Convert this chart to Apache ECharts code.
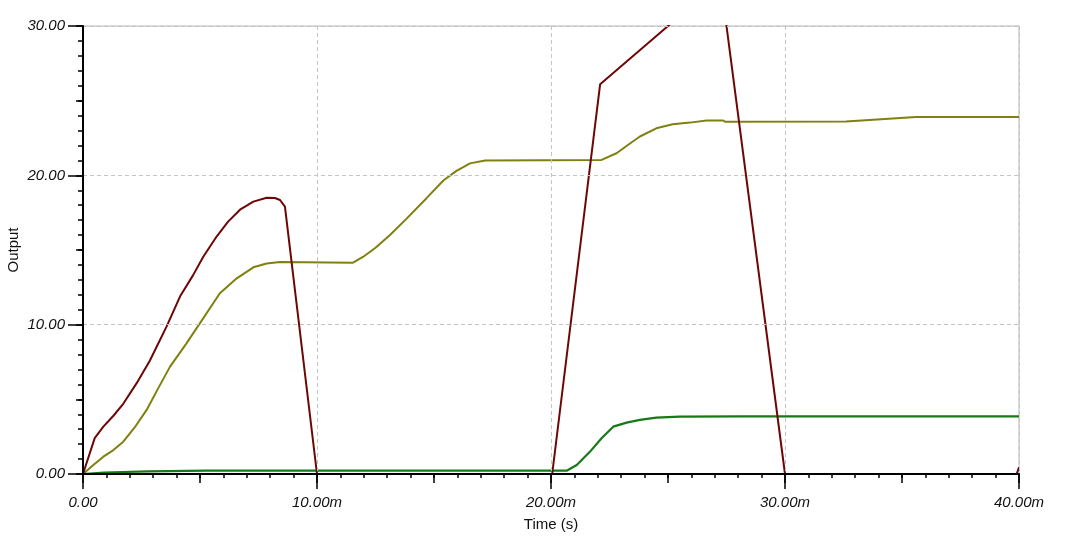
<!DOCTYPE html>
<html>
<head>
<meta charset="utf-8">
<script src="https://cdn.jsdelivr.net/npm/echarts@6/dist/echarts.min.js"></script>
<style>
html,body{margin:0;padding:0;background:#fff;}
#chart{width:1065px;height:545px;}
</style>
</head>
<body>
<div id="chart"></div>
<script>
// Time in ms
const redT = [0, 0.5, 0.87, 1.3, 1.72, 2.3, 2.86, 3.57, 4.15, 4.7, 5.14, 5.71, 6.2, 6.71, 7.28, 7.85, 8.2, 8.42, 8.63, 10.0, 20.05, 22.1, 25.0, 27.25, 30.0, 39.9, 40];
const redV = [0, 2.4, 3.17, 3.9, 4.7, 6.1, 7.6, 9.87, 11.9, 13.3, 14.55, 15.9, 16.9, 17.7, 18.24, 18.5, 18.48, 18.35, 17.9, 0, 0, 26.1, 30, 33, 0, 0, 0.45];

const oliveT = [0, 0.44, 0.87, 1.3, 1.72, 2.2, 2.72, 3.2, 3.72, 4.4, 5.0, 5.85, 6.57, 7.28, 7.85, 8.42, 11.54, 11.98, 12.5, 13.12, 13.83, 14.68, 15.4, 15.96, 16.54, 17.18, 22.16, 22.8, 23.3, 23.8, 24.5, 25.2, 25.94, 26.65, 27.36, 27.45, 32.6, 35.6, 40];
const oliveV = [0, 0.6, 1.16, 1.6, 2.16, 3.1, 4.29, 5.7, 7.19, 8.7, 10.1, 12.1, 13.1, 13.84, 14.1, 14.2, 14.15, 14.55, 15.15, 16.0, 17.1, 18.47, 19.65, 20.3, 20.8, 21.0, 21.03, 21.48, 22.05, 22.6, 23.15, 23.42, 23.53, 23.67, 23.67, 23.58, 23.6, 23.9, 23.9];

const greenT = [0, 0.9, 2.8, 5.3, 20.67, 21.1, 21.67, 22.16, 22.66, 23.23, 23.8, 24.5, 25.5, 28.1, 40];
const greenV = [0, 0.1, 0.17, 0.22, 0.22, 0.6, 1.5, 2.39, 3.17, 3.44, 3.62, 3.77, 3.84, 3.86, 3.86];

const xTicks = [0, 10, 20, 30, 40];
const yTicks = [0, 10, 20, 30];

function pairs(t, v) { return t.map((x, i) => [x, v[i]]); }

const labelFont = { fontFamily: 'Liberation Sans, Arial, sans-serif', fontStyle: 'italic', fontSize: 15, color: '#111' };

const chart = echarts.init(document.getElementById('chart'), null, { renderer: 'canvas' });
chart.setOption({
  animation: false,
  backgroundColor: '#fff',
  grid: { left: 83, right: 46, top: 26, bottom: 71, show: true, borderColor: '#b4b4b4', borderWidth: 1,
          containLabel: false, outerBoundsMode: 'none' },
  xAxis: [{
    type: 'value', min: xTicks[0], max: xTicks[xTicks.length - 1], interval: 10, position: 'bottom', z: 10,
    name: 'Time (s)', nameLocation: 'middle', nameGap: 43, nameMoveOverlap: false,
    nameTextStyle: { fontFamily: 'Liberation Sans, Arial, sans-serif', fontSize: 15, color: '#111' },
    axisLine: { show: true, lineStyle: { color: '#000', width: 2 } },
    axisTick: { show: true, length: 15, lineStyle: { color: '#000', width: 1.5 } },
    minorTick: { show: true, splitNumber: 10, length: 4, lineStyle: { color: '#000', width: 1.5 } },
    axisLabel: Object.assign({ margin: 21, formatter: v => v === 0 ? '0.00' : v.toFixed(2) + 'm' }, labelFont),
    splitLine: { show: true, lineStyle: { color: '#c4c4c4', type: [4, 3], width: 1 } }
  }, {
    type: 'value', min: 0, max: 40, interval: 5, position: 'bottom', z: 9,
    axisLine: { show: false }, axisLabel: { show: false }, splitLine: { show: false },
    axisTick: { show: true, length: 9, lineStyle: { color: '#000', width: 1.5 } }
  }],
  yAxis: [{
    type: 'value', min: yTicks[0], max: yTicks[yTicks.length - 1], interval: 10, position: 'left', z: 10,
    name: 'Output', nameLocation: 'middle', nameGap: 62, nameRotate: 90, nameMoveOverlap: false,
    nameTextStyle: { fontFamily: 'Liberation Sans, Arial, sans-serif', fontSize: 15, color: '#111' },
    axisLine: { show: true, lineStyle: { color: '#000', width: 2 } },
    axisTick: { show: true, length: 15, lineStyle: { color: '#000', width: 1.5 } },
    minorTick: { show: true, splitNumber: 10, length: 5, lineStyle: { color: '#000', width: 1.5 } },
    axisLabel: Object.assign({ margin: 18, formatter: v => v.toFixed(2) }, labelFont),
    splitLine: { show: true, lineStyle: { color: '#c4c4c4', type: [4, 3], width: 1 } }
  }, {
    type: 'value', min: 0, max: 30, interval: 5, position: 'left', z: 9,
    axisLine: { show: false }, axisLabel: { show: false }, splitLine: { show: false },
    axisTick: { show: true, length: 7, lineStyle: { color: '#000', width: 1.5 } }
  }],
  series: [
    { type: 'line', name: 'olive', data: pairs(oliveT, oliveV), showSymbol: false, symbol: 'none',
      lineStyle: { color: '#808010', width: 2 }, z: 2 },
    { type: 'line', name: 'green', data: pairs(greenT, greenV), showSymbol: false, symbol: 'none',
      lineStyle: { color: '#157a15', width: 2.2 }, z: 3 },
    { type: 'line', name: 'red', data: pairs(redT, redV), showSymbol: false, symbol: 'none',
      lineStyle: { color: '#6e0606', width: 2 }, z: 4 }
  ]
});
</script>
</body>
</html>
